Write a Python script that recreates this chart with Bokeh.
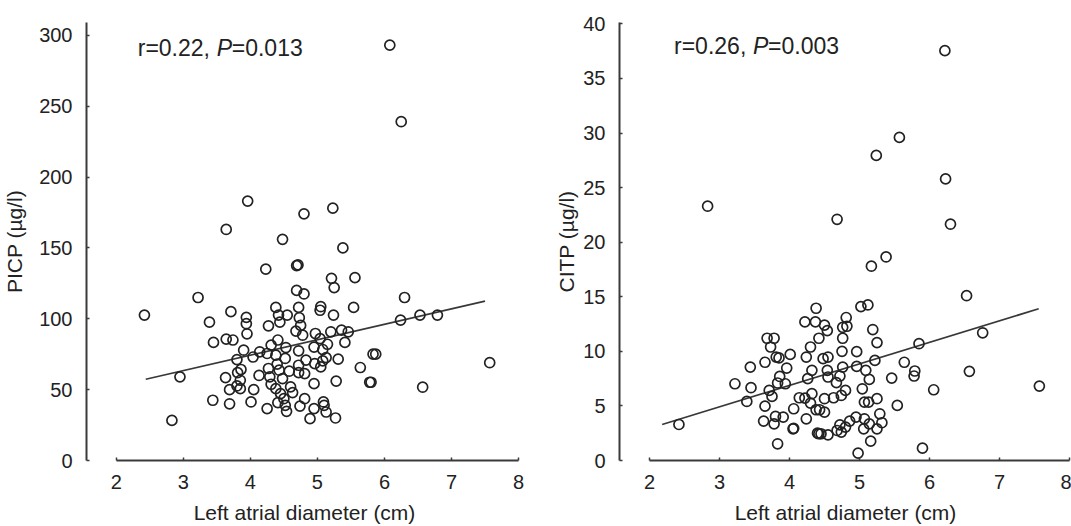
from bokeh.plotting import figure
from bokeh.layouts import row
from bokeh.models import Range1d, FixedTicker, Label
from bokeh.embed import file_html
from bokeh.resources import INLINE

# ---------------- data ----------------
picp_x = [6.08, 6.25, 3.96, 5.23, 4.80, 3.64, 4.48, 5.38, 4.69, 4.71,
          4.23, 5.56, 5.21, 5.25, 4.69, 4.80, 3.22, 6.30, 4.72, 5.05,
          5.54, 5.04, 4.38, 2.42, 3.71, 4.42, 4.55, 3.94, 5.24, 4.73,
          6.24, 6.53, 6.79, 3.39, 3.94, 4.44, 4.27, 4.75, 4.97, 3.95,
          4.68, 4.78, 5.20, 5.36, 5.46, 5.04, 3.64, 3.74, 3.45, 4.41,
          5.41, 5.15, 4.31, 4.95, 4.72, 3.90, 4.53, 5.08, 4.14, 4.04,
          4.25, 4.38, 5.87, 5.83, 5.31, 5.13, 4.52, 3.80, 4.83, 7.57,
          4.96, 5.08, 4.40, 4.72, 5.64, 5.05, 4.27, 3.86, 4.43, 4.58,
          4.72, 4.81, 4.13, 3.81, 3.63, 2.95, 4.29, 4.48, 3.85, 5.28,
          5.78, 5.80, 4.31, 3.80, 3.85, 4.60, 4.38, 4.95, 6.57, 3.69,
          4.05, 4.45, 4.63, 3.44, 4.50, 4.81, 4.01, 3.69, 4.41, 5.09,
          5.10, 4.52, 4.74, 4.25, 4.95, 5.13, 4.54, 4.89, 5.27, 2.83]
picp_y = [293, 239, 183, 178, 174, 163, 156, 150, 137.5, 138,
          135, 129, 128.5, 122, 120, 117.5, 115, 115, 108, 108.5,
          108, 106, 108, 102.6, 105, 102.6, 102.6, 101, 102.6, 100.7,
          99, 102.6, 102.6, 97.6, 96.5, 97.6, 95, 95.3, 89.6, 89.4,
          91.3, 88.4, 90.8, 92, 90.8, 86, 85.6, 85, 83.3, 85,
          83.3, 82, 81.4, 80, 77.4, 77.8, 79.7, 78.3, 76.7, 73,
          75.5, 74.3, 75, 75, 71.5, 72.6, 72, 71.2, 70.8, 69,
          68.4, 70.3, 68, 67.2, 65.6, 66, 64.9, 64.2, 63.7, 63,
          62, 61.3, 60, 62, 58.5, 59, 59, 57.8, 56.6, 56,
          55.2, 55.2, 53.8, 52.6, 50.7, 51.9, 50.7, 54.2, 51.7, 50,
          50, 47.2, 47.9, 42.5, 43.6, 43.6, 41.3, 40, 40.8, 41.3,
          38.9, 38.9, 38.4, 36.6, 36.6, 34.2, 34.7, 29.5, 30, 28.3]
picp_fit_x = [2.44, 7.50]
picp_fit_y = [57.3, 112.4]

citp_x = [6.22, 5.57, 5.24, 6.23, 2.83, 4.68, 6.30, 5.38, 5.17, 6.53,
          5.02, 5.12, 4.38, 4.81, 4.22, 4.37, 4.50, 4.76, 5.19, 4.54,
          4.82, 3.68, 3.78, 4.42, 4.76, 6.76, 3.73, 4.30, 5.25, 5.85,
          4.75, 4.96, 4.01, 3.81, 3.85, 4.24, 4.48, 4.55, 3.65, 5.22,
          5.64, 3.44, 3.96, 4.76, 4.96, 4.32, 4.54, 5.09, 5.79, 6.57,
          3.86, 4.55, 4.72, 5.78, 4.26, 5.46, 5.14, 3.22, 3.83, 3.94,
          4.67, 7.57, 4.80, 3.45, 5.04, 6.06, 3.71, 4.74, 3.75, 4.14,
          4.22, 4.32, 4.50, 4.63, 5.25, 3.39, 5.07, 5.13, 3.65, 4.06,
          4.38, 4.43, 4.50, 4.30, 5.54, 5.29, 3.80, 3.91, 3.63, 4.24,
          4.95, 5.07, 4.86, 5.32, 5.14, 3.78, 2.42, 4.72, 4.80, 4.05,
          4.06, 5.06, 5.25, 4.74, 4.68, 4.42, 4.45, 4.55, 4.40, 5.16,
          3.83, 5.90, 4.98]
citp_y = [37.55, 29.6, 27.95, 25.8, 23.3, 22.1, 21.65, 18.65, 17.8, 15.1,
          14.1, 14.25, 13.95, 13.1, 12.7, 12.7, 12.4, 12.2, 12.0, 11.9,
          12.3, 11.2, 11.2, 11.2, 11.2, 11.7, 10.4, 10.4, 10.8, 10.7,
          10.0, 9.97, 9.72, 9.48, 9.4, 9.48, 9.33, 9.48, 9.0, 9.17,
          9.0, 8.56, 8.47, 8.56, 8.62, 8.26, 8.26, 8.26, 8.2, 8.17,
          7.7, 7.65, 7.74, 7.74, 7.5, 7.55, 7.43, 7.03, 7.1, 7.03,
          7.13, 6.82, 6.42, 6.67, 6.57, 6.48, 6.42, 5.96, 5.87, 5.75,
          5.72, 6.12, 5.66, 5.75, 5.66, 5.41, 5.35, 5.35, 4.98, 4.74,
          4.65, 4.65, 4.43, 5.26, 5.05, 4.28, 4.04, 3.98, 3.61, 3.82,
          3.98, 3.82, 3.61, 3.46, 3.36, 3.36, 3.3, 3.27, 3.06, 2.9,
          2.95, 2.9, 2.9, 2.6, 2.75, 2.45, 2.45, 2.35, 2.5, 1.77,
          1.53, 1.13, 0.67]
citp_fit_x = [2.18, 7.56]
citp_fit_y = [3.3, 13.9]

x_ticks = [2, 3, 4, 5, 6, 7, 8]
picp_ticks = [0, 50, 100, 150, 200, 250, 300]
citp_ticks = [0, 5, 10, 15, 20, 25, 30, 35, 40]

FONT = "Liberation Sans"
AXIS_COL = "#3a3a3a"
TEXT_COL = "#222222"


def make_panel(xs, ys, fx, fy, xr, yr, yticks, ylabel, r_txt, p_txt,
               width, mbl, mbr, ylab_standoff, ann_x, ann_y):
    p = figure(width=width, height=526, output_backend="svg",
               toolbar_location=None,
               x_range=Range1d(*xr), y_range=Range1d(*yr),
               min_border_left=mbl, min_border_right=mbr,
               min_border_top=22, min_border_bottom=65,
               background_fill_color="white", border_fill_color="white")
    p.outline_line_color = None
    p.xgrid.visible = False
    p.ygrid.visible = False

    p.line(fx, fy, line_color="#383838", line_width=1.7)
    p.scatter(xs, ys, marker="circle", size=10, fill_color=None,
              line_color="#222222", line_width=1.7)

    xa = p.xaxis[0]
    xa.ticker = FixedTicker(ticks=x_ticks)
    xa.bounds = (2, 8)
    xa.axis_label = "Left atrial diameter (cm)"
    ya = p.yaxis[0]
    ya.ticker = FixedTicker(ticks=yticks)
    ya.axis_label = ylabel

    for ax in (xa, ya):
        ax.axis_line_color = AXIS_COL
        ax.axis_line_width = 2
        ax.major_tick_line_color = AXIS_COL
        ax.major_tick_line_width = 1.5
        ax.major_tick_in = 3
        ax.major_tick_out = 0
        ax.minor_tick_line_color = None
        ax.major_label_text_font = FONT
        ax.major_label_text_font_size = "20px"
        ax.major_label_text_color = TEXT_COL
        ax.axis_label_text_font = FONT
        ax.axis_label_text_font_size = "21px"
        ax.axis_label_text_font_style = "normal"
        ax.axis_label_text_color = TEXT_COL
    xa.major_label_standoff = 14
    xa.axis_label_standoff = 9
    ya.major_label_standoff = ylab_standoff[0]
    ya.axis_label_standoff = ylab_standoff[1]

    common = dict(x=ann_x, y=ann_y, text_font=FONT, text_font_size="23px",
                  text_color=TEXT_COL, text_baseline="middle")
    p.add_layout(Label(text=r_txt, x_offset=0, **common))
    p.add_layout(Label(text="P", x_offset=79, text_font_style="italic", **common))
    p.add_layout(Label(text=p_txt, x_offset=94, **common))
    return p


p1 = make_panel(picp_x, picp_y, picp_fit_x, picp_fit_y,
                (1.556, 8.059), (0, 309), picp_ticks, "PICP (µg/l)",
                "r=0.22, ", "=0.013", 540, 83, 18, (14, 10), 2.32, 291)
p2 = make_panel(citp_x, citp_y, citp_fit_x, citp_fit_y,
                (1.571, 8.029), (0, 40.13), citp_ticks, "CITP (µg/l)",
                "r=0.26, ", "=0.003", 531, 79, 0, (14, 2), 2.35, 38.0)

layout = row(p1, p2)
open("out.html", "w").write(file_html(layout, INLINE))
